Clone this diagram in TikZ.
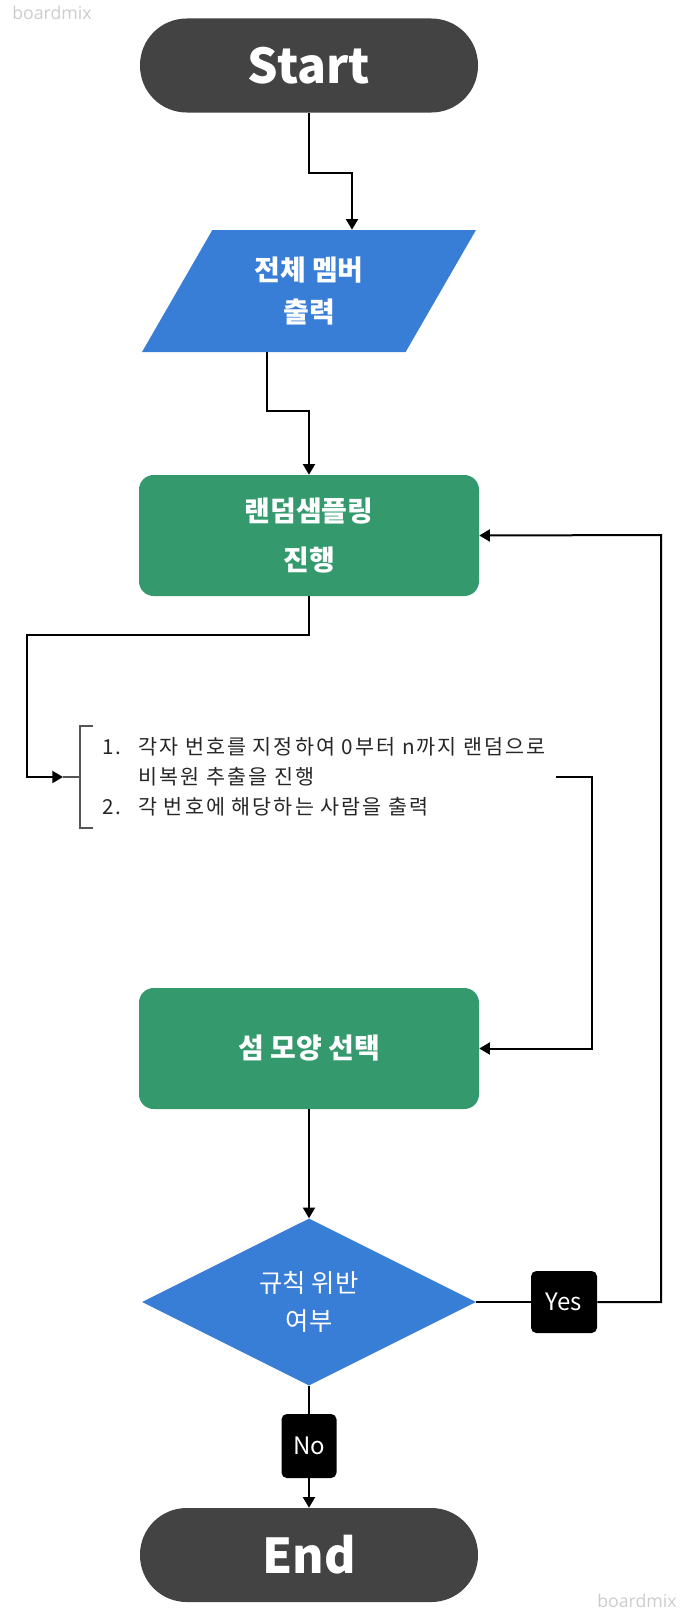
\documentclass[tikz,border=0pt]{standalone}
\usepackage{fontspec}
\setmainfont{Noto Sans CJK KR}
\newfontfamily\notefont[LetterSpace=10]{Noto Sans CJK KR}
\newfontfamily\markfont{Open Sans}
\usetikzlibrary{arrows.meta,shapes.geometric}

\definecolor{termgray}{HTML}{434343}
\definecolor{ioblue}{HTML}{387ED6}
\definecolor{procgreen}{HTML}{35996E}
\definecolor{bracketgray}{HTML}{555555}
\definecolor{markgray}{HTML}{CCCCCC}

\begin{document}
\begin{tikzpicture}[x=0.75pt, y=-0.75pt]
\useasboundingbox (0,0) rectangle (689,1620);

\coordinate (J1) at (352,173);
\coordinate (J2) at (267,411);
\coordinate (J3) at (27,635);
\coordinate (NoteIn) at (63,777);
\coordinate (NoteOut) at (556,777);
\coordinate (J4) at (592,777);
\coordinate (J5) at (661,535);


\tikzset{TermStyle/.style = {
 shape = rectangle,
 fill = termgray,
 text = white,
 rounded corners = 35pt,
 minimum width = 253.5pt,
 minimum height = 70.5pt,
 font = \fontsize{36}{40}\selectfont\bfseries} }

\tikzset{ProcStyle/.style = {
 shape = rectangle,
 fill = procgreen,
 text = white,
 align = center,
 rounded corners = 11pt,
 minimum width = 255pt,
 minimum height = 90.75pt,
 font = \fontsize{21}{36.75}\selectfont\bfseries} }

\tikzset{LabelStyle/.style = {
 shape = rectangle,
 fill = black,
 text = white,
 rounded corners = 4pt,
 inner sep = 0pt,
 font = \fontsize{18}{20}\selectfont} }

\node[TermStyle] (Start) at (309,65.5) {Start};
\node[shape = trapezium, trapezium left angle = 60, trapezium right angle = 120,
 trapezium stretches = true, fill = ioblue, text = white, align = center,
 inner sep = 0pt, minimum width = 250.5pt, minimum height = 91.5pt,
 font = \fontsize{21}{32}\selectfont\bfseries] (Print) at (309,291) {전체 멤버\\출력};
\node[ProcStyle] (Sample) at (309,535.5) {랜덤샘플링\\진행};
\node[anchor = west, inner sep = 0pt, align = left, text = black!85,
 font = \notefont\fontsize{15.5}{22.5}\selectfont] (Note) at (102,777)
 {\makebox[27pt][l]{1.}각자 번호를 지정하여 0부터 n까지 랜덤으로\\
 \hspace*{27pt}비복원 추출을 진행\\
 \makebox[27pt][l]{2.}각 번호에 해당하는 사람을 출력};
\node[ProcStyle] (Shape) at (309,1048.5) {섬 모양 선택};
\node[shape = diamond, aspect = 2, fill = ioblue, text = white, align = center,
 inner sep = 0pt, minimum width = 250.5pt, minimum height = 125.25pt,
 font = \fontsize{19}{28.5}\selectfont] (Check) at (309,1302) {규칙 위반\\여부};
\node[LabelStyle, minimum width = 49.5pt, minimum height = 46.5pt] (Yes) at (564,1302) {Yes};
\node[LabelStyle, minimum width = 41.25pt, minimum height = 48pt] (No) at (309,1446) {No};
\node[TermStyle] (End) at (309,1555) {End};

\node[anchor = base west, inner sep = 0pt, text = markgray,
 font = \markfont\fontsize{13.3}{15}\selectfont] (MarkTop) at (12,20) {boardmix};
\node[anchor = base west, inner sep = 0pt, text = markgray,
 font = \markfont\fontsize{13.3}{15}\selectfont] (MarkBottom) at (597,1607) {boardmix};


\tikzset{FlowStyle/.style = {line width = 1.5pt, -{Triangle[length=8pt, width=9pt]}} }
\tikzset{LineStyle/.style = {line width = 1.5pt} }

\draw[FlowStyle] (Start.south) |- (J1) -- (J1 |- Print.north);
\draw[FlowStyle] (J2 |- Print.south) -- (J2) -| (Sample.north);
\draw[FlowStyle] (Sample.south) |- (J3) |- (NoteIn);
\draw[FlowStyle] (NoteOut) -- (J4) |- (Shape.east);
\draw[FlowStyle] (Shape.south) -- (Check.north);
\draw[LineStyle] (Check.east) -- (Yes.west);
\draw[FlowStyle] (Yes.east) -| (J5) -- (Sample.east);
\draw[LineStyle] (Check.south) -- (No.north);
\draw[FlowStyle] (No.south) -- (End.north);

% bracket round the note
\draw[bracketgray, line width = 1.5pt] (NoteIn) -- (80,777);
\draw[bracketgray, line width = 1.5pt] (93,726) -- (80,726) -- (80,828) -- (93,828);

\end{tikzpicture}
\end{document}
